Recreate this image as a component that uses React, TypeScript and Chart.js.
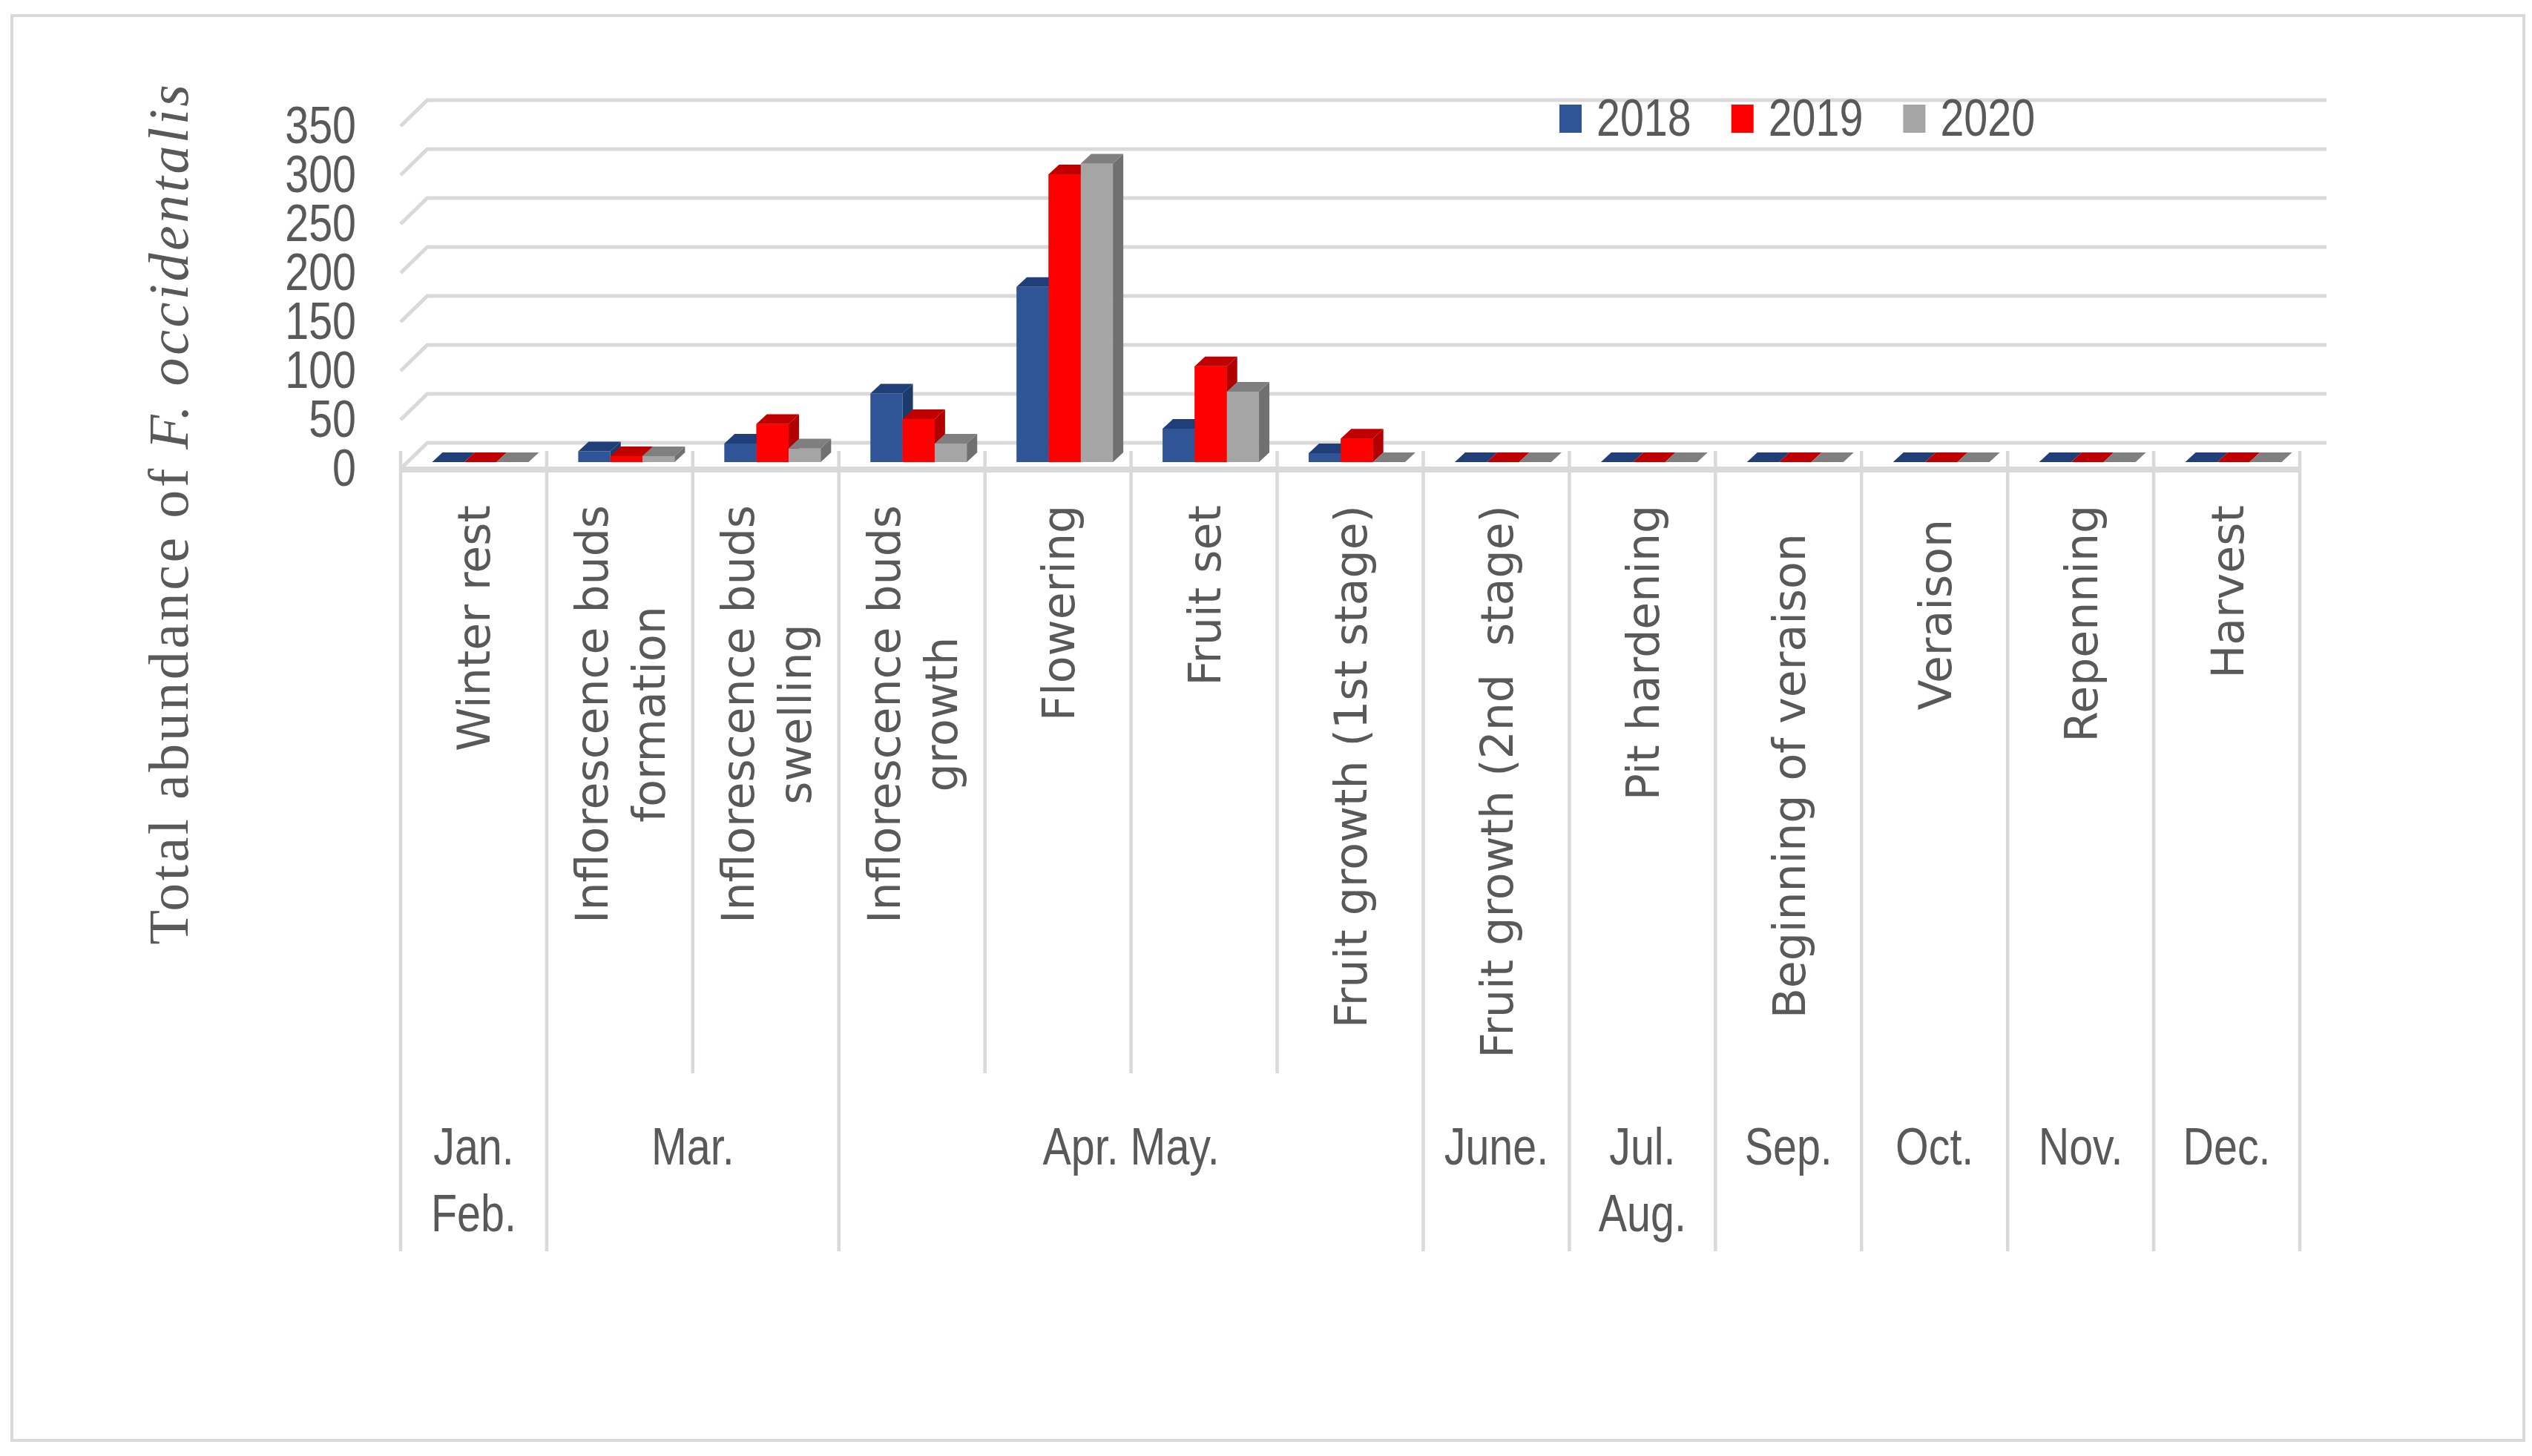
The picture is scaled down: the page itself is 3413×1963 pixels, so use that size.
import React, { useEffect, useRef } from "react";
import { Chart, registerables } from "chart.js";

Chart.register(...registerables);

// ---------- data ----------
const categories: string[][] = [
  ["Winter rest"],
  ["Inflorescence buds", "formation"],
  ["Inflorescence buds", "swelling"],
  ["Inflorescence buds", "growth"],
  ["Flowering"],
  ["Fruit set"],
  ["Fruit growth (1st stage)"],
  ["Fruit growth (2nd  stage)"],
  ["Pit hardening"],
  ["Beginning of veraison  "],
  ["Veraison "],
  ["Repenning"],
  ["Harvest"],
];
const monthLabels: string[][] = [
  ["Jan.", "Feb."],
  ["Mar."],
  ["Apr. May."],
  ["June."],
  ["Jul.", "Aug."],
  ["Sep."],
  ["Oct."],
  ["Nov."],
  ["Dec."],
];
const monthSpans = [1, 2, 4, 1, 1, 1, 1, 1, 1];
const seriesNames = ["2018", "2019", "2020"];
const values2018 = [0, 11, 19, 70, 179, 34, 9, 0, 0, 0, 0, 0, 0];
const values2019 = [0, 6, 39, 44, 294, 98, 24, 0, 0, 0, 0, 0, 0];
const values2020 = [0, 6, 14, 19, 305, 72, 0, 0, 0, 0, 0, 0, 0];
const yMin = 0;
const yMax = 350;
const yStep = 50;
const yTitleRegular = "Total abundance of ";
const yTitleItalic = "F. occidentalis";

// ---------- styles ----------
const FRONT = ["#2F5597", "#FF0000", "#A5A5A5"];
const TOP = ["#203F78", "#C00000", "#7F7F7F"];
const SIDE = ["#1D3A6C", "#B00000", "#707070"];
const GRID = "#D9D9D9";
const TEXT = "#595959";
const NARROW_FONT = "70px 'Liberation Sans', Arial, sans-serif";
const NARROW_SCALE = 0.82;
const WALL_DX = 36;
const WALL_DY = 35;
const BAR_SHIFT = 9;
const BAR_DX = 14;
const BAR_DY = 13;

function narrowText(ctx: CanvasRenderingContext2D, t: string, x: number, y: number, align: CanvasTextAlign) {
  ctx.save();
  ctx.font = NARROW_FONT;
  ctx.textAlign = align;
  ctx.textBaseline = "alphabetic";
  ctx.translate(x, y);
  ctx.scale(NARROW_SCALE, 1);
  ctx.fillText(t, 0, 0);
  ctx.restore();
}

const excel3d = {
  id: "excel3d",
  beforeDraw(chart: any) {
    const { ctx, chartArea: a } = chart;
    const y = chart.scales.y;
    ctx.save();
    ctx.fillStyle = "#ffffff";
    ctx.fillRect(0, 0, chart.width, chart.height);
    ctx.strokeStyle = GRID;
    ctx.lineWidth = 4;
    ctx.strokeRect(16, 21, chart.width - 27, chart.height - 42);
    // back wall gridlines with left wall diagonals
    ctx.lineWidth = 5;
    y.ticks.forEach((tk: any) => {
      const py = y.getPixelForValue(tk.value);
      ctx.beginPath();
      ctx.moveTo(a.left, py);
      ctx.lineTo(a.left + WALL_DX, py - WALL_DY);
      ctx.lineTo(a.right + WALL_DX, py - WALL_DY);
      ctx.stroke();
    });
    // floor front edge
    ctx.fillStyle = GRID;
    ctx.fillRect(a.left, a.bottom - 3, a.right - a.left, 8);
    // y tick labels
    ctx.fillStyle = TEXT;
    y.ticks.forEach((tk: any) => {
      const py = y.getPixelForValue(tk.value);
      narrowText(ctx, String(tk.label), a.left - 60, py + 23, "right");
    });
    ctx.restore();
  },
  beforeDatasetsDraw(chart: any) {
    chart.ctx.save();
    chart.ctx.translate(BAR_SHIFT, -BAR_SHIFT);
  },
  afterDatasetsDraw(chart: any) {
    const ctx = chart.ctx;
    const metas = [0, 1, 2].map((i) => chart.getDatasetMeta(i));
    for (let c = 0; c < categories.length; c++) {
      for (let d = 0; d < metas.length; d++) {
        const bar = metas[d].data[c];
        const p = bar.getProps(["x", "y", "base", "width"], true);
        const l = p.x - p.width / 2;
        const r = p.x + p.width / 2;
        const top = p.y;
        const base = p.base;
        ctx.fillStyle = SIDE[d];
        ctx.beginPath();
        ctx.moveTo(r, top);
        ctx.lineTo(r + BAR_DX, top - BAR_DY);
        ctx.lineTo(r + BAR_DX, base - BAR_DY);
        ctx.lineTo(r, base);
        ctx.closePath();
        ctx.fill();
        ctx.fillStyle = TOP[d];
        ctx.beginPath();
        ctx.moveTo(l, top);
        ctx.lineTo(l + BAR_DX, top - BAR_DY);
        ctx.lineTo(r + BAR_DX, top - BAR_DY);
        ctx.lineTo(r, top);
        ctx.closePath();
        ctx.fill();
        if (d < metas.length - 1) metas[d + 1].data[c].draw(ctx);
      }
    }
    ctx.restore();
  },
  afterDraw(chart: any) {
    const { ctx, chartArea: a } = chart;
    const x = chart.scales.x;
    const n = categories.length;
    const slot = (a.right - a.left) / n;
    ctx.save();

    // separators
    const groupB = new Set<number>([0]);
    let acc = 0;
    monthSpans.forEach((s) => {
      acc += s;
      groupB.add(acc);
    });
    ctx.strokeStyle = GRID;
    ctx.lineWidth = 4.5;
    for (let k = 0; k <= n; k++) {
      const px = a.left + k * slot;
      ctx.beginPath();
      ctx.moveTo(px, a.bottom - 24);
      ctx.lineTo(px, groupB.has(k) ? a.bottom + 1055 : a.bottom + 815);
      ctx.stroke();
    }

    // category labels (rotated)
    ctx.fillStyle = TEXT;
    ctx.font = "60px 'DejaVu Sans'";
    ctx.textAlign = "left";
    ctx.textBaseline = "alphabetic";
    const capH = 44;
    const lineH = 77;
    categories.forEach((lines, i) => {
      const cx = x.getPixelForValue(i);
      const widths = lines.map((t) => ctx.measureText(t).width);
      const maxW = Math.max(...widths);
      ctx.save();
      ctx.translate(cx, a.bottom + 49);
      ctx.rotate(-Math.PI / 2);
      lines.forEach((t, j) => {
        const ly = (j - (lines.length - 1) / 2) * lineH + capH / 2;
        ctx.fillText(t, -maxW + (maxW - widths[j]) / 2, ly);
      });
      ctx.restore();
    });

    // month labels
    let start = 0;
    monthLabels.forEach((lines, g) => {
      const span = monthSpans[g];
      const cx = a.left + (start + span / 2) * slot;
      lines.forEach((t, j) => {
        narrowText(ctx, t, cx, a.bottom + 938 + j * 90, "center");
      });
      start += span;
    });

    // legend
    let lx = 2102;
    ctx.font = NARROW_FONT;
    chart.data.datasets.forEach((ds: any, i: number) => {
      ctx.fillStyle = FRONT[i];
      ctx.fillRect(lx, 141, 30, 38);
      ctx.fillStyle = TEXT;
      narrowText(ctx, ds.label, lx + 50, 183, "left");
      ctx.font = NARROW_FONT;
      lx += 50 + ctx.measureText(ds.label).width * NARROW_SCALE + 54;
    });

    // y title
    const fs = 76;
    const fReg = `${fs}px 'Liberation Serif', serif`;
    const fIt = `italic ${fs}px 'Liberation Serif', serif`;
    ctx.font = fReg;
    const w1 = ctx.measureText(yTitleRegular).width;
    ctx.font = fIt;
    const w2 = ctx.measureText(yTitleItalic).width;
    const nch = yTitleRegular.length + yTitleItalic.length;
    const target = 1163;
    const ls = Math.max(0, (target - w1 - w2) / nch);
    const total = w1 + w2 + ls * nch;
    ctx.translate(253, 692);
    ctx.rotate(-Math.PI / 2);
    (ctx as any).letterSpacing = `${ls}px`;
    ctx.fillStyle = TEXT;
    ctx.textAlign = "left";
    ctx.font = fReg;
    ctx.fillText(yTitleRegular, -total / 2, 0);
    ctx.font = fIt;
    ctx.fillText(yTitleItalic, -total / 2 + w1 + ls * yTitleRegular.length, 0);
    (ctx as any).letterSpacing = "0px";
    ctx.restore();
  },
};

export default function App() {
  const ref = useRef<HTMLCanvasElement | null>(null);
  useEffect(() => {
    document.body.style.margin = "0";
    document.body.style.overflow = "hidden";
    const canvas = ref.current;
    if (!canvas) return;
    const series = [values2018, values2019, values2020];
    const chart = new Chart(canvas, {
      type: "bar",
      data: {
        labels: categories.map((c) => c.join(" ")),
        datasets: series.map((vals, i) => ({
          label: seriesNames[i],
          data: vals,
          backgroundColor: FRONT[i],
          borderWidth: 0,
          categoryPercentage: 0.66,
          barPercentage: 1.0,
          clip: false as any,
        })),
      },
      options: {
        animation: false,
        responsive: false,
        devicePixelRatio: 1,
        layout: { padding: { left: 0, right: 313, top: 170, bottom: 1331 } },
        plugins: { legend: { display: false }, tooltip: { enabled: false } },
        scales: {
          x: { display: false },
          y: {
            min: yMin,
            max: yMax,
            afterFit: (scale: any) => {
              scale.width = 540;
            },
            ticks: {
              stepSize: yStep,
              autoSkip: false,
              display: false,
            },
            grid: { display: false, drawTicks: false },
            border: { display: false },
          },
        },
      },
      plugins: [excel3d],
    });
    const fontsToLoad = [
      `70px 'Liberation Sans'`,
      `60px 'DejaVu Sans'`,
      `76px 'Liberation Serif'`,
      `italic 76px 'Liberation Serif'`,
    ];
    Promise.all(fontsToLoad.map((f) => (document as any).fonts.load(f)))
      .catch(() => undefined)
      .then(() => chart.update());
    return () => chart.destroy();
  }, []);
  return (
    <div style={{ width: 3413, height: 1963 }}>
      <canvas ref={ref} width={3413} height={1963} style={{ width: 3413, height: 1963, display: "block" }} />
    </div>
  );
}
